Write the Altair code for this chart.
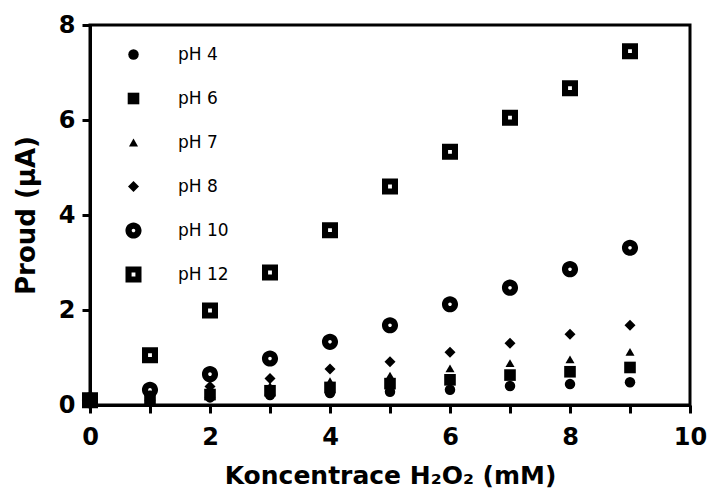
import altair as alt
import pandas as pd

# H2O2 concentration (mM)
conc = [0, 1, 2, 3, 4, 5, 6, 7, 8, 9]

# Current (µA) for each pH
series = ["pH 4", "pH 6", "pH 7", "pH 8", "pH 10", "pH 12"]
ph4 = [0.10, 0.10, 0.16, 0.21, 0.25, 0.28, 0.32, 0.40, 0.44, 0.48]
ph6 = [0.10, 0.13, 0.22, 0.30, 0.37, 0.45, 0.53, 0.63, 0.70, 0.79]
ph7 = [0.10, 0.17, 0.30, 0.40, 0.50, 0.62, 0.77, 0.88, 0.96, 1.12]
ph8 = [0.10, 0.20, 0.39, 0.56, 0.76, 0.91, 1.11, 1.30, 1.49, 1.68]
ph10 = [0.10, 0.32, 0.65, 0.98, 1.33, 1.68, 2.12, 2.47, 2.86, 3.31]
ph12 = [0.10, 1.05, 1.99, 2.79, 3.68, 4.60, 5.33, 6.05, 6.67, 7.45]

values = [ph4, ph6, ph7, ph8, ph10, ph12]
rows = []
# hollow series first so the filled markers sit on top of them
for name, ys in reversed(list(zip(series, values))):
    for x, y in zip(conc, ys):
        rows.append({"conc": x, "current": y, "series": name})
df = pd.DataFrame(rows)

# ring and open square drawn as filled paths with a hole (opposite winding)
RING = (
    "M-1,0A1,1 0 1,0 1,0A1,1 0 1,0 -1,0Z"
    "M-0.22,0A0.22,0.22 0 1,1 0.22,0A0.22,0.22 0 1,1 -0.22,0Z"
)
OPEN_SQUARE = "M-1,-1H1V1H-1Z" "M-0.24,-0.24V0.24H0.24V-0.24Z"

# marker styles per series
shapes = ["circle", "square", "triangle-up", "diamond", RING, OPEN_SQUARE]
sizes = [110, 135, 82, 122, 260, 256]

legend = alt.Legend(
    title=None,
    orient="none",
    legendX=35,
    legendY=21,
    labelFont="DejaVu Sans",
    labelFontSize=17,
    labelColor="black",
    labelOffset=36,
    rowPadding=26,
    symbolFillColor="black",
    symbolStrokeWidth=0,
    padding=0,
)

chart = (
    alt.Chart(df)
    .mark_point(filled=True, opacity=1, color="black", strokeWidth=0)
    .encode(
        x=alt.X(
            "conc:Q",
            scale=alt.Scale(domain=[0, 10], nice=False, zero=False),
            axis=alt.Axis(
                values=list(range(0, 11)),
                labelExpr="datum.value % 2 == 0 ? datum.label : ''",
                labelFlush=False,
                title="Koncentrace H₂O₂ (mM)",
                titleFontSize=25,
                titlePadding=14,
                labelPadding=12,
            ),
        ),
        y=alt.Y(
            "current:Q",
            scale=alt.Scale(domain=[0, 8], nice=False),
            axis=alt.Axis(
                values=[0, 2, 4, 6, 8],
                labelFlush=False,
                title="Proud (μA)",
                titleFontSize=26,
                titlePadding=19,
                labelPadding=7,
            ),
        ),
        shape=alt.Shape("series:N", scale=alt.Scale(domain=series, range=shapes), legend=legend),
        size=alt.Size(
            "series:N",
            scale=alt.Scale(type="ordinal", domain=series, range=sizes),
            legend=legend,
        ),
    )
    .properties(
        width=600,
        height=380,
        autosize=alt.AutoSizeParams(type="none"),
        padding={"left": 90, "top": 25, "right": 19, "bottom": 89},
    )
    .configure_view(stroke="black", strokeWidth=3)
    .configure_axis(
        domainColor="black",
        domainWidth=3,
        tickColor="black",
        tickWidth=3,
        tickSize=8,
        grid=False,
        labelFont="DejaVu Sans",
        labelFontWeight="bold",
        labelFontSize=24,
        labelColor="black",
        titleFont="DejaVu Sans",
        titleFontWeight="bold",
        titleColor="black",
    )
)

chart.save("out.html", embed_options={"renderer": "svg", "actions": False})
